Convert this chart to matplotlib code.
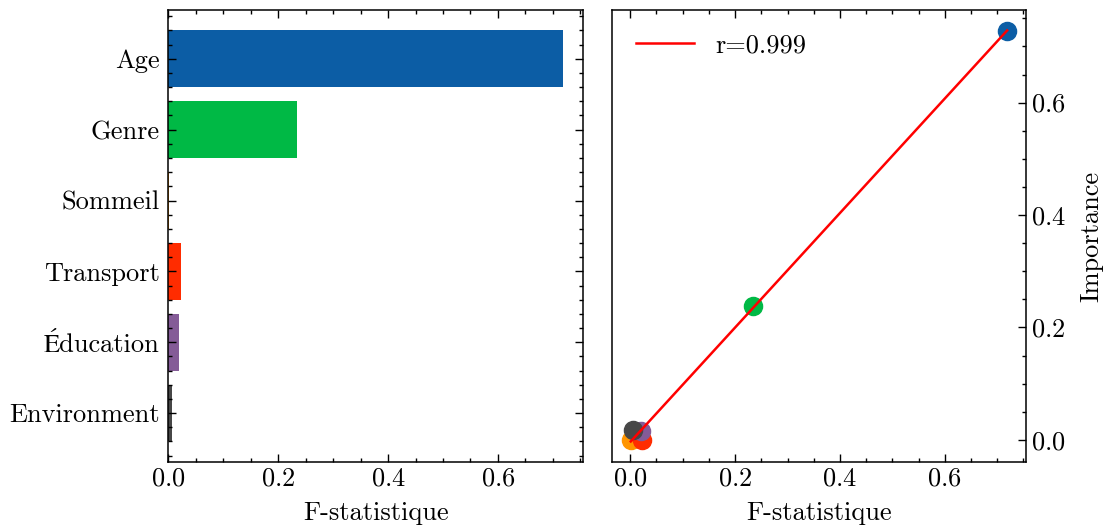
import matplotlib
matplotlib.use('Agg')
import matplotlib.pyplot as plt
from matplotlib.ticker import AutoMinorLocator, MultipleLocator
import numpy as np

# data
features = ['Age', 'Genre', 'Sommeil', 'Transport', 'Éducation', 'Environment']
f_stat = [0.719, 0.235, 0.001, 0.022, 0.020, 0.006]
importance = [0.728, 0.238, 0.000, 0.000, 0.015, 0.017]
colors = ['#0C5DA5', '#00B945', '#FF9500', '#FF2C00', '#845B97', '#474747']

plt.rcParams['font.family'] = ['cmr10', 'STIXGeneral']
plt.rcParams['mathtext.fontset'] = 'cm'
plt.rcParams['axes.formatter.use_mathtext'] = True
plt.rcParams['font.size'] = 19
plt.rcParams['axes.linewidth'] = 1.1
plt.rcParams['xtick.direction'] = 'in'
plt.rcParams['ytick.direction'] = 'in'
plt.rcParams['xtick.major.size'] = 5.5
plt.rcParams['ytick.major.size'] = 5.5
plt.rcParams['xtick.minor.size'] = 2.8
plt.rcParams['ytick.minor.size'] = 2.8
plt.rcParams['xtick.major.width'] = 1.0
plt.rcParams['ytick.major.width'] = 1.0
plt.rcParams['xtick.minor.width'] = 1.0
plt.rcParams['ytick.minor.width'] = 1.0
plt.rcParams['xtick.minor.visible'] = True
plt.rcParams['ytick.minor.visible'] = True
plt.rcParams['xtick.top'] = True
plt.rcParams['ytick.right'] = True

fig = plt.figure(figsize=(11.07, 5.30), dpi=100)
ax1 = fig.add_axes([0.1522, 0.1283, 0.3744, 0.853])
ax2 = fig.add_axes([0.5528, 0.1283, 0.374, 0.853])

# left: horizontal bars
y = np.arange(len(features))
ax1.barh(y, f_stat, color=colors, height=0.8)
ax1.set_yticks(y)
ax1.set_yticklabels(features)
ax1.invert_yaxis()
ax1.yaxis.set_minor_locator(AutoMinorLocator(5))
ax1.tick_params(axis='y', which='major', pad=6.4)
ax1.xaxis.set_major_locator(MultipleLocator(0.2))
ax1.xaxis.set_minor_locator(MultipleLocator(0.05))
ax1.set_xlabel('F-statistique', labelpad=8)

# right: scatter + fit line
for xi, yi, c in zip(f_stat, importance, colors):
    ax2.scatter(xi, yi, s=170, color=c, zorder=2)
r = np.corrcoef(f_stat, importance)[0, 1]
slope, intercept = np.polyfit(f_stat, importance, 1)
xs = np.array([min(f_stat), max(f_stat)])
ax2.plot(xs, slope * xs + intercept, color='red', lw=1.8, zorder=3,
         label=f'r={np.floor(r * 1000) / 1000:.3f}')
ax2.yaxis.tick_right()
ax2.yaxis.set_label_position('right')
for axis in (ax2.xaxis, ax2.yaxis):
    axis.set_major_locator(MultipleLocator(0.2))
    axis.set_minor_locator(MultipleLocator(0.05))
ax2.set_ylabel('Importance', labelpad=10)
ax2.set_xlabel('F-statistique', labelpad=8)
ax2.legend(loc='upper left', frameon=False, handlelength=2.2)

fig.savefig('out.png', dpi=100)
